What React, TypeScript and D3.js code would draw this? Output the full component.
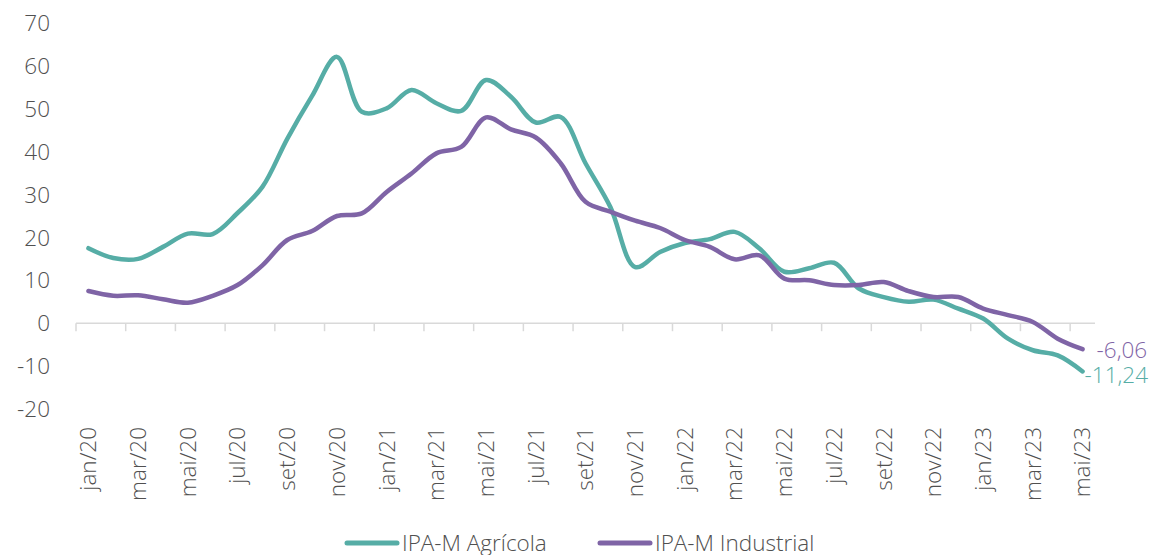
import React, { useRef, useEffect } from 'react';
import * as d3 from 'd3';

// meses jan/20 .. mai/23
const MONTHS = [
  'jan/20', 'fev/20', 'mar/20', 'abr/20', 'mai/20', 'jun/20', 'jul/20', 'ago/20', 'set/20', 'out/20', 'nov/20', 'dez/20',
  'jan/21', 'fev/21', 'mar/21', 'abr/21', 'mai/21', 'jun/21', 'jul/21', 'ago/21', 'set/21', 'out/21', 'nov/21', 'dez/21',
  'jan/22', 'fev/22', 'mar/22', 'abr/22', 'mai/22', 'jun/22', 'jul/22', 'ago/22', 'set/22', 'out/22', 'nov/22', 'dez/22',
  'jan/23', 'fev/23', 'mar/23', 'abr/23', 'mai/23',
];

const AGRICOLA = [
  17.5, 15.2, 15.0, 17.8, 20.9, 20.8, 25.7, 31.8, 43.0, 53.0, 62.1, 49.3,
  50.1, 54.4, 51.3, 49.5, 56.7, 52.8, 46.8, 48.1, 37.3, 27.1, 13.1, 16.6,
  18.7, 19.6, 21.3, 17.4, 12.0, 12.8, 14.1, 8.1, 6.1, 5.0, 5.5, 3.4,
  1.1, -3.6, -6.3, -7.5, -11.24,
];

const INDUSTRIAL = [
  7.5, 6.4, 6.5, 5.6, 4.8, 6.4, 8.9, 13.5, 19.4, 21.5, 25.0, 25.6,
  30.6, 34.9, 39.6, 41.1, 48.0, 45.2, 43.3, 37.3, 28.3, 26.0, 23.9, 22.2,
  19.4, 17.8, 14.9, 15.8, 10.4, 10.0, 8.9, 8.9, 9.6, 7.5, 6.1, 6.1,
  3.4, 1.9, 0.3, -3.6, -6.06,
];

const Y_TICKS = [-20, -10, 0, 10, 20, 30, 40, 50, 60, 70];

const SERIES = [
  { name: 'IPA-M Agrícola', values: AGRICOLA, color: '#56ADA6', label: '-11,24' },
  { name: 'IPA-M Industrial', values: INDUSTRIAL, color: '#7F64A6', label: '-6,06' },
];

const W = 1150;
const H = 555;
const FONT = '"Open Sans", "Noto Sans", sans-serif';
const TEXT = '#505050';

const App = () => {
  const Svg = useRef<SVGSVGElement>(null);

  useEffect(() => {
    const svg = d3.select(Svg.current);
    svg.selectAll('*').remove();

    const x = d3.scaleBand().domain(MONTHS).range([76, 1095]).padding(0);
    const y = d3.scaleLinear().domain([-20, 70]).range([409, 23]);
    const cx = (m: string) => (x(m) as number) + x.bandwidth() / 2;

    // y labels
    svg
      .append('g')
      .selectAll('text')
      .data(Y_TICKS)
      .enter()
      .append('text')
      .attr('x', 50)
      .attr('y', (d) => y(d))
      .attr('dy', '0.36em')
      .attr('text-anchor', 'end')
      .attr('font-family', FONT)
      .attr('font-size', 22.5)
      .attr('font-weight', 300)
      .attr('fill', TEXT)
      .text((d) => d);

    // x axis line at zero
    const x0 = y(0);
    svg
      .append('line')
      .attr('x1', 76)
      .attr('x2', 1095)
      .attr('y1', x0)
      .attr('y2', x0)
      .attr('stroke', '#d9d9d9')
      .attr('stroke-width', 1.5);

    // ticks every 2 months, between categories
    const tickMonths = MONTHS.filter((d, i) => i % 2 === 0);
    svg
      .append('g')
      .selectAll('line')
      .data(tickMonths)
      .enter()
      .append('line')
      .attr('x1', (d) => x(d) as number)
      .attr('x2', (d) => x(d) as number)
      .attr('y1', x0)
      .attr('y2', x0 + 8)
      .attr('stroke', '#d9d9d9')
      .attr('stroke-width', 1.5);

    // x labels (rotated)
    svg
      .append('g')
      .selectAll('text')
      .data(tickMonths)
      .enter()
      .append('text')
      .attr('transform', (d) => `translate(${cx(d)}, 427) rotate(-90)`)
      .attr('dy', '0.35em')
      .attr('text-anchor', 'end')
      .attr('font-family', FONT)
      .attr('font-size', 22.5)
      .attr('font-weight', 300)
      .attr('fill', TEXT)
      .text((d) => d);

    const line = d3
      .line<number>()
      .x((d, i) => cx(MONTHS[i]))
      .y((d) => y(d))
      .curve(d3.curveCatmullRom.alpha(0.5));

    SERIES.forEach((s) => {
      svg
        .append('path')
        .attr('d', line(s.values))
        .attr('fill', 'none')
        .attr('stroke', s.color)
        .attr('stroke-width', 4.5)
        .attr('stroke-linecap', 'round')
        .attr('stroke-linejoin', 'round');
    });

    // end labels
    const last = MONTHS[MONTHS.length - 1];
    svg
      .append('text')
      .attr('x', cx(last) + 14)
      .attr('y', y(INDUSTRIAL[INDUSTRIAL.length - 1]) + 1)
      .attr('dy', '0.36em')
      .attr('font-family', FONT)
      .attr('font-size', 22.5)
      .attr('font-weight', 300)
      .attr('fill', SERIES[1].color)
      .text(SERIES[1].label);
    svg
      .append('text')
      .attr('x', cx(last) + 2)
      .attr('y', y(AGRICOLA[AGRICOLA.length - 1]) + 3)
      .attr('dy', '0.36em')
      .attr('font-family', FONT)
      .attr('font-size', 22.5)
      .attr('font-weight', 300)
      .attr('fill', SERIES[0].color)
      .text(SERIES[0].label);

    // legend
    const legendX = [347, 600];
    SERIES.forEach((s, i) => {
      const g = svg.append('g').attr('transform', `translate(${legendX[i]}, 543)`);
      g.append('line')
        .attr('x1', 0)
        .attr('x2', 50)
        .attr('y1', 0)
        .attr('y2', 0)
        .attr('stroke', s.color)
        .attr('stroke-width', 5)
        .attr('stroke-linecap', 'round');
      g.append('text')
        .attr('x', 55)
        .attr('y', 0)
        .attr('dy', '0.36em')
        .attr('font-family', FONT)
        .attr('font-size', 22.5)
        .attr('font-weight', 300)
        .attr('fill', TEXT)
        .text(s.name);
    });
  }, []);

  return (
    <svg
      ref={Svg}
      width={W}
      height={H}
      style={{ position: 'absolute', left: 0, top: 0, background: '#fff' }}
    />
  );
};

export default App;
